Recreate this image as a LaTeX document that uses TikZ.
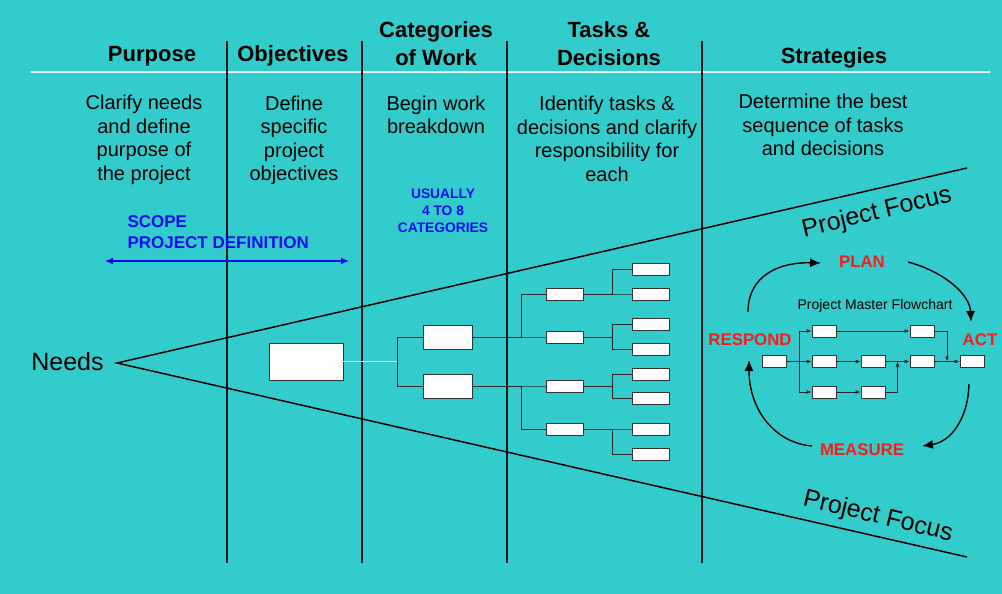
\documentclass[tikz,border=0pt]{standalone}
\usepackage{fontspec}
\setmainfont{Liberation Sans}
\usetikzlibrary{calc,arrows.meta}
\definecolor{bgcyan}{RGB}{51,204,204}
\definecolor{scopeblue}{RGB}{12,12,238}
\definecolor{pdcared}{RGB}{255,24,24}
\begin{document}
\begin{tikzpicture}[x=1pt,y=-1pt,>={Latex[length=11pt,width=9pt]},
    head/.style={font=\bfseries\fontsize{22}{28}\selectfont,align=center},
    body/.style={font=\fontsize{20}{23.5}\selectfont,align=center},
    note/.style={font=\bfseries\fontsize{13.8}{17}\selectfont,text=scopeblue,align=center},
    scopetext/.style={font=\bfseries\fontsize{17}{21}\selectfont,text=scopeblue,align=left},
    phase/.style={font=\bfseries\fontsize{16.8}{20}\selectfont,text=pdcared},
    focus/.style={font=\fontsize{25}{28}\selectfont},
    box/.style={draw=black!80,fill=white,line width=.8pt,inner sep=0pt},
    rootbox/.style={box,minimum width=74pt,minimum height=37pt},
    catbox/.style={box,minimum width=49pt,minimum height=24pt},
    taskbox/.style={box,minimum width=37pt,minimum height=12pt},
    pmbox/.style={box,minimum width=24pt,minimum height=12pt},
    column/.style={line width=1.8pt,black!90},
    tree/.style={line width=.9pt,black!85},
    flow/.style={line width=.8pt,black!85,->,>={Latex[length=5pt,width=4pt]}},
    cyclearrow/.style={line width=1.4pt,->}]
    \fill[bgcyan] (0,0) rectangle (1002,594);
    % header row
    \draw[white!85!bgcyan, line width=1.2pt] (31,72)--(990,72);
    \foreach \x in {227,362,507,702} \draw[column] (\x,41)--(\x,563);
    \node[head] (purpose) at (152,56) {Purpose};
    \node[head] (objectives) at (293,56) {Objectives};
    \node[head] (categories) at (436,43.5) {Categories\\of Work};
    \node[head] (tasks) at (609,43.5) {Tasks \&\\Decisions};
    \node[head] (strategies) at (834,58) {Strategies};
    \node[body] (clarify) at (144,140) {Clarify needs\\and define\\purpose of\\the project};
    \node[body] (define) at (294,140.5) {Define\\specific\\project\\objectives};
    \node[body] (begin) at (436,115) {Begin work\\breakdown};
    \node[body] (identify) at (607,139) {Identify tasks \&\\decisions and clarify\\responsibility for\\each};
    \node[body] (determine) at (823,125) {Determine the best\\sequence of tasks\\and decisions};
    % scope
    \node[scopetext, anchor=west] (scope) at (124,232) {SCOPE\\PROJECT DEFINITION};
    \node[note] (usually) at (443,211) {USUALLY\\4 TO 8\\CATEGORIES};
    \coordinate (scopeL) at (105,261);
    \coordinate (scopeR) at (349,261);
    \draw[scopeblue, line width=1.3pt, {Latex[length=8pt,width=7pt]}-{Latex[length=8pt,width=7pt]}] (scopeL)--(scopeR);
    % funnel
    \node[font=\fontsize{25}{30}\selectfont] (needs) at (67.5,362) {Needs};
    \coordinate (apex) at (117,363);
    \coordinate (upTip) at (967,168);
    \coordinate (lowTip) at (967,557);
    \draw[line width=1.5pt] (upTip)--(apex)--(lowTip);
    \node[focus, rotate=13.5] (focusUp) at (877,213) {Project Focus};
    \node[focus, rotate=-13.5] (focusLow) at (878,517) {Project Focus};
    % work breakdown
    \node[rootbox] (wbs) at (306,361.5) {};
    \node[catbox] (cat1) at (447.5,337) {};
    \node[catbox] (cat2) at (447.5,386) {};
    \foreach \n/\y in {t1/294,t2/337,t3/386,t4/429}
        \node[taskbox] (\n) at (564.5,\y) {};
    \foreach \n/\y in {s1/269,s2/294,s3/324,s4/349,s5/374,s6/398,s7/429,s8/454}
        \node[taskbox] (\n) at (650.5,\y) {};
    \coordinate (split) at (398,361.5);
    \draw[white!80!bgcyan, line width=1pt] (wbs)--(split);
    \draw[tree] (cat1.west)--++(-25,0)|-(cat2.west);
    \foreach \t/\c in {t1/cat1,t2/cat1,t3/cat2,t4/cat2}
        \draw[tree] (\t.west)--++(-24,0)|-(\c.east);
    \foreach \s/\t in {s1/t1,s2/t1,s3/t2,s4/t2,s5/t3,s6/t3,s7/t4,s8/t4}
        \draw[tree] (\s.west)--++(-19,0)|-(\t.east);
    % project master flowchart
    \node[font=\fontsize{14}{17}\selectfont] (master) at (875,306) {Project Master Flowchart};
    \node[pmbox] (pmStart) at (774.5,361.5) {};
    \node[pmbox] (pmA1) at (824,331) {};
    \node[pmbox] (pmA2) at (922,331) {};
    \node[pmbox] (pmB1) at (824,361.5) {};
    \node[pmbox] (pmB2) at (873,361.5) {};
    \node[pmbox] (pmB3) at (922,361.5) {};
    \node[pmbox] (pmC1) at (824,392) {};
    \node[pmbox] (pmC2) at (873,392) {};
    \node[pmbox] (pmEnd) at (972,361.5) {};
    \foreach \b in {pmA1,pmB1,pmC1}
        \draw[flow] (pmStart.east)--++(12,0)|-(\b.west);
    \draw[flow] (pmA1)--(pmA2);
    \draw[flow] (pmB1)--(pmB2);
    \draw[flow] (pmB2)--(pmB3);
    \draw[flow] (pmB3)--(pmEnd);
    \draw[flow] (pmC1)--(pmC2);
    \draw[flow] (pmA2.east)-|($(pmB3.east)!.5!(pmEnd.west)$);
    \draw[flow] (pmC2.east)-|($(pmB2.east)!.5!(pmB3.west)$);
    % cycle
    \node[phase] (plan) at (862,262) {PLAN};
    \node[phase] (act) at (980,340) {ACT};
    \node[phase] (respond) at (750,340) {RESPOND};
    \node[phase] (measure) at (862,450) {MEASURE};
    \coordinate (planIn) at (821,263);
    \coordinate (planOut) at (908,262);
    \coordinate (actIn) at (971,322);
    \coordinate (actOut) at (969,384);
    \coordinate (measureIn) at (922,446);
    \coordinate (measureOut) at (812,446);
    \coordinate (respondIn) at (749,360);
    \coordinate (respondOut) at (748,312);
    \draw[cyclearrow] (respondOut) .. controls (748,275) and (780,262) .. (planIn);
    \draw[cyclearrow] (planOut) .. controls (945,272) and (970,295) .. (actIn);
    \draw[cyclearrow] (actOut) .. controls (968,420) and (950,442) .. (measureIn);
    \draw[cyclearrow] (measureOut) .. controls (775,443) and (749,410) .. (respondIn);
\end{tikzpicture}
\end{document}
